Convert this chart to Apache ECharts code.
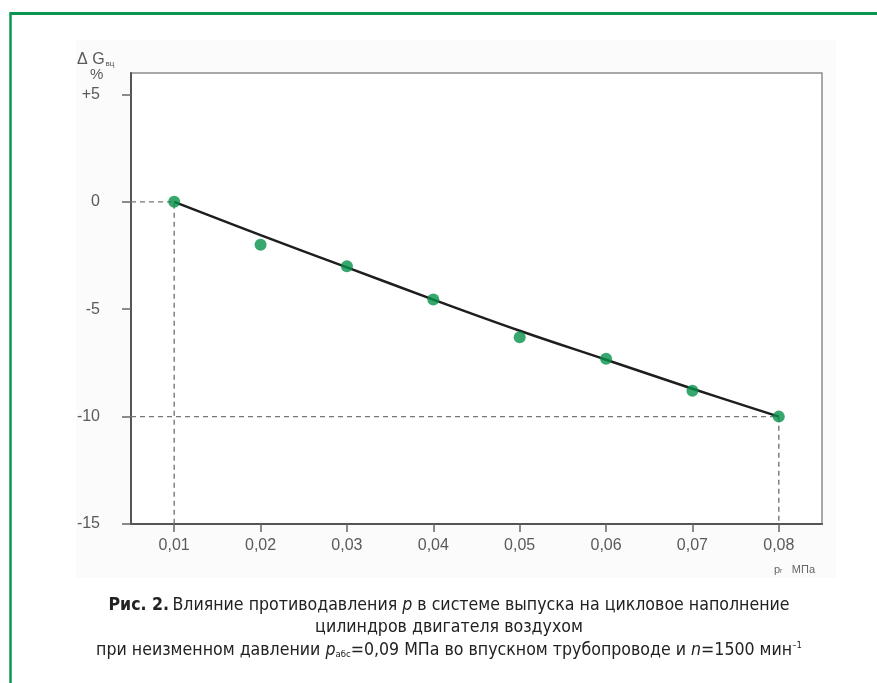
<!DOCTYPE html>
<html>
<head>
<meta charset="utf-8">
<script src="https://cdn.jsdelivr.net/npm/echarts@6/dist/echarts.min.js"></script>
<style>
html,body{margin:0;padding:0;background:#fff;}
#c{width:877px;height:683px;}
</style>
</head>
<body>
<div id="c"></div>
<script>
// ---- data ----
var pressure = [0.01, 0.02, 0.03, 0.04, 0.05, 0.06, 0.07, 0.08];          // p, MPa
var measured = [0, -2.0, -3.0, -4.55, -6.3, -7.3, -8.8, -10.0];           // ΔGвц, % (points)
var fitted   = [0, -1.55, -3.05, -4.55, -6.0, -7.35, -8.7, -10.0];        // ΔGвц, % (curve)
var xTicks   = [0.01, 0.02, 0.03, 0.04, 0.05, 0.06, 0.07, 0.08];
var xTickLabels = ['0,01','0,02','0,03','0,04','0,05','0,06','0,07','0,08'];
var yTicks   = [5, 0, -5, -10, -15];
var yTickLabels = ['+5','0','-5','-10','-15'];
var xRange = [0.005, 0.085];
var yRange = [-15, 6];
// reference (guide) lines
var guideStart = [[xRange[0], 0], [0.01, 0], [0.01, -15]];
var guideEnd   = [[xRange[0], -10], [0.08, -10], [0.08, -15]];

var chart = echarts.init(document.getElementById('c'), null, {renderer: 'canvas'});
var green = '#05914a';
var frameGreen = '#0a9650';
var labelFont = '"Liberation Sans", Arial, sans-serif';
var capFont = '"Liberation Sans Narrow", "DejaVu Sans Condensed", "Liberation Sans", sans-serif';
var capSize = 17.6;

function pairs(xs, ys){ return xs.map(function(x,i){ return [x, ys[i]]; }); }

chart.setOption({
  animation: false,
  backgroundColor: '#ffffff',
  grid: {left: 131, top: 73, right: 55, bottom: 159, show: true, borderColor: '#8c8c8c', borderWidth: 1.5, backgroundColor: '#ffffff'},
  xAxis: {
    type: 'value', min: xRange[0], max: xRange[1],
    axisLine: {show: true, onZero: false, lineStyle: {color: '#555', width: 2}},
    axisTick: {show: true, inside: false, length: 8, customValues: xTicks, lineStyle: {color: '#666', width: 1.5}},
    axisLabel: {customValues: xTicks, margin: 14, color: '#5a5a5a', fontSize: 16, fontFamily: labelFont,
      formatter: function(v){ var i = xTicks.findIndex(function(t){return Math.abs(t-v)<1e-9;}); return i>=0 ? xTickLabels[i] : ''; }},
    splitLine: {show: false}
  },
  yAxis: {
    type: 'value', min: yRange[0], max: yRange[1],
    axisLine: {show: true, onZero: false, lineStyle: {color: '#555', width: 2}},
    axisTick: {show: true, inside: false, length: 9, customValues: yTicks, lineStyle: {color: '#666', width: 1.5}},
    axisLabel: {customValues: yTicks, margin: 31, color: '#5a5a5a', fontSize: 16, fontFamily: labelFont,
      formatter: function(v){ var i = yTicks.indexOf(v); return i>=0 ? yTickLabels[i] : ''; }},
    splitLine: {show: false}
  },
  graphic: [
    {type: 'rect', z: -10, shape: {x: 76, y: 40, width: 760, height: 538}, style: {fill: '#fbfbfb'}},
    {type: 'line', shape: {x1: 10, y1: 13.5, x2: 877, y2: 13.5}, style: {stroke: frameGreen, lineWidth: 3}},
    {type: 'line', shape: {x1: 10.5, y1: 12, x2: 10.5, y2: 683}, style: {stroke: frameGreen, lineWidth: 2.5}},
    {type: 'text', left: 77, top: 52, style: {text: '{a|Δ G}{s|вц}', rich: {a: {fontSize: 16, fontFamily: labelFont, fill: '#5a5a5a'}, s: {fontSize: 8, fontFamily: labelFont, fill: '#5a5a5a', padding: [7,0,0,1]}}}},
    {type: 'text', left: 90, top: 67, style: {text: '%', fontSize: 15, fontFamily: labelFont, fill: '#5a5a5a'}},
    {type: 'text', left: 774, top: 564, style: {text: '{a|p}{s|г}{b|   МПа}', rich: {a: {fontSize: 11, fontFamily: labelFont, fill: '#666'}, s: {fontSize: 7, fontFamily: labelFont, fill: '#666', padding: [4,0,0,0]}, b: {fontSize: 11, fontFamily: labelFont, fill: '#666'}}}},
    {type: 'text', x: 449, y: 605, style: {text: '{b|Рис. 2.} {n|Влияние противодавления }{i|p}{n| в системе выпуска на цикловое наполнение}', align: 'center', verticalAlign: 'middle',
      rich: {b: {fontSize: capSize, fontWeight: 'bold', fontFamily: capFont, fill: '#222'}, n: {fontSize: capSize, fontFamily: capFont, fill: '#222'}, i: {fontSize: capSize, fontStyle: 'italic', fontFamily: capFont, fill: '#222'}}}},
    {type: 'text', x: 449, y: 627, style: {text: 'цилиндров двигателя воздухом', align: 'center', verticalAlign: 'middle', fontSize: capSize, fontFamily: capFont, fill: '#222'}},
    {type: 'text', x: 449, y: 650, style: {text: '{n|при неизменном давлении }{i|p}{s|абс}{n|=0,09 МПа во впускном трубопроводе и }{i|n}{n|=1500 мин}{u|–1}', align: 'center', verticalAlign: 'middle',
      rich: {n: {fontSize: capSize, fontFamily: capFont, fill: '#222'}, i: {fontSize: capSize, fontStyle: 'italic', fontFamily: capFont, fill: '#222'},
             s: {fontSize: 9.5, fontFamily: capFont, fill: '#222', padding: [9,0,0,0]}, u: {fontSize: 9.5, fontFamily: capFont, fill: '#222', padding: [0,0,9,0]}}}}
  ],
  series: [
    {type: 'line', data: guideStart, symbol: 'none', silent: true, z: 1, lineStyle: {color: '#777', width: 1.4, type: [5,4]}},
    {type: 'line', data: guideEnd, symbol: 'none', silent: true, z: 1, lineStyle: {color: '#777', width: 1.4, type: [5,4]}},
    {type: 'line', data: pairs(pressure, fitted), symbol: 'none', smooth: 0.4, z: 3, lineStyle: {color: '#1e1e1e', width: 2.5}},
    {type: 'scatter', data: pairs(pressure, measured), symbol: 'circle', symbolSize: 12, z: 4, itemStyle: {color: green}}
  ]
});
</script>
</body>
</html>
